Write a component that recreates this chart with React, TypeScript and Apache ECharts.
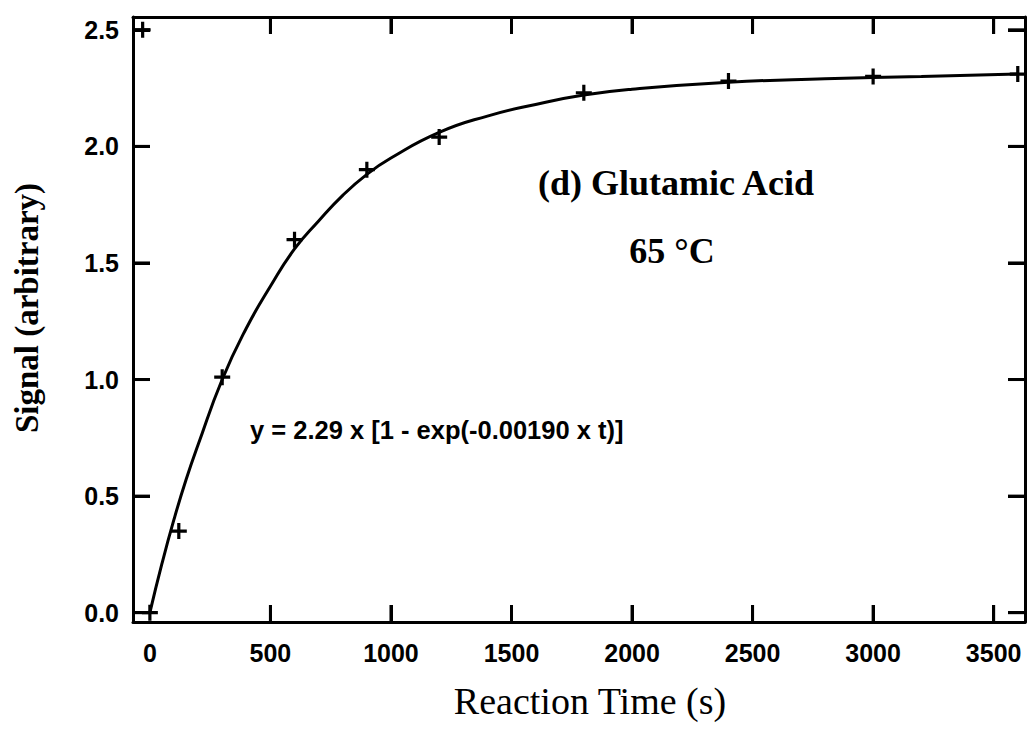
import React, { useEffect, useRef } from "react";
import * as echarts from "echarts";

// Measured data points (reaction time in s, signal arbitrary)
const timeSec = [0, 120, 300, 600, 900, 1200, 1800, 2400, 3000, 3600];
const signal = [0.0, 0.35, 1.01, 1.6, 1.9, 2.04, 2.23, 2.28, 2.3, 2.31];

// Stray marker near the top-left corner
const strayTime = [-30];
const straySignal = [2.5];

// Fitted curve
const curveTime = [0, 50, 100, 150, 200, 300, 400, 500, 600, 700, 800, 900, 1000, 1200, 1400, 1600, 1800, 2000, 2400, 2800, 3200, 3600];
const curveSignal = [0, 0.21, 0.4, 0.57, 0.72, 1.0, 1.22, 1.4, 1.56, 1.68, 1.79, 1.88, 1.95, 2.06, 2.13, 2.18, 2.22, 2.245, 2.275, 2.29, 2.3, 2.31];

// Axis ranges, tick labels and tick marks
const xRange = [-70, 3630];
const yRange = [-0.04, 2.555];
const xLabelValues = [0, 500, 1000, 1500, 2000, 2500, 3000, 3500];
const xTickValues = [500, 1000, 1500, 2000, 2500, 3000, 3500];
const yTickValues = [0, 0.5, 1.0, 1.5, 2.0, 2.5];

const xTitle = "Reaction Time (s)";
const yTitle = "Signal (arbitrary)";
const plotTitle = "(d) Glutamic Acid";
const tempLabel = "65 °C";
const fitLabel = "y = 2.29 x [1 - exp(-0.00190 x t)]";

const PLUS = "path://M4,0H6V4H10V6H6V10H4V6H0V4H4Z";
const TICK_PATH_V = "path://M0,0H2V10H0Z";
const TICK_PATH_H = "path://M0,0H10V2H0Z";
const SANS = "'Liberation Sans', Arial, Helvetica, sans-serif";
const SERIF = "'Liberation Serif', 'Times New Roman', Times, serif";
const TICK_LEN = 17;
const TICK_W = 3;

export default function App() {
  const ref = useRef<HTMLDivElement>(null);

  useEffect(() => {
    if (!ref.current) return;
    const chart = echarts.init(ref.current, undefined, { renderer: "svg" });
    const lineStyle = { color: "#000", width: 3 };
    const labelFont = { color: "#000", fontFamily: SANS, fontSize: 25, fontWeight: "bold" as const };
    const tickLine = { color: "#000", width: 3 };

    const xBase = {
      type: "value" as const,
      min: xRange[0],
      max: xRange[1],
      axisLine: { show: true, onZero: false, lineStyle },
      axisTick: { show: true, inside: true, length: TICK_LEN, lineStyle: tickLine, customValues: xTickValues },
      splitLine: { show: false },
    };
    const yBase = {
      type: "value" as const,
      min: yRange[0],
      max: yRange[1],
      axisLine: { show: true, onZero: false, lineStyle },
      axisTick: { show: true, inside: true, length: TICK_LEN, lineStyle: tickLine, customValues: yTickValues },
      splitLine: { show: false },
    };

    // Tick marks as bar symbols anchored on the frame, pointing inward
    const tickSeries = (name: string, data: number[][], symbol: string, size: number[], offset: number[]) => ({
      type: "scatter",
      name,
      xAxisIndex: 0,
      yAxisIndex: 0,
      data,
      symbol,
      symbolKeepAspect: false,
      symbolSize: size,
      symbolOffset: offset,
      clip: false,
      itemStyle: { color: "#000", borderWidth: 0, opacity: 1 },
      emphasis: { disabled: true },
      z: 5,
    });

    chart.setOption({
      animation: false,
      backgroundColor: "#fff",
      grid: { left: 133, top: 17, right: 6, bottom: 108, containLabel: false },
      xAxis: [
        {
          ...xBase,
          position: "bottom",
          axisLabel: { ...labelFont, margin: 18, customValues: xLabelValues, formatter: (v: number) => String(v) },
        },
        { ...xBase, position: "top", axisLabel: { show: false } },
      ],
      yAxis: [
        {
          ...yBase,
          position: "left",
          axisLabel: { ...labelFont, margin: 14, customValues: yTickValues, formatter: (v: number) => v.toFixed(1) },
        },
        { ...yBase, position: "right", axisLabel: { show: false } },
      ],
      series: [
        tickSeries("tickBottom", xTickValues.map((v) => [v, yRange[0]]), TICK_PATH_V, [TICK_W, TICK_LEN], [0, -TICK_LEN / 2]),
        tickSeries("tickTop", xTickValues.map((v) => [v, yRange[1]]), TICK_PATH_V, [TICK_W, TICK_LEN], [0, TICK_LEN / 2]),
        tickSeries("tickLeft", yTickValues.map((v) => [xRange[0], v]), TICK_PATH_H, [TICK_LEN, TICK_W], [TICK_LEN / 2, 0]),
        tickSeries("tickRight", yTickValues.map((v) => [xRange[1], v]), TICK_PATH_H, [TICK_LEN, TICK_W], [-TICK_LEN / 2, 0]),
        {
          type: "line",
          name: "fit",
          xAxisIndex: 0,
          yAxisIndex: 0,
          data: curveTime.map((t, i) => [t, curveSignal[i]]),
          smooth: true,
          showSymbol: false,
          lineStyle: { color: "#000", width: 3 },
          silent: true,
          z: 2,
        },
        {
          type: "scatter",
          name: "data",
          xAxisIndex: 0,
          yAxisIndex: 0,
          data: timeSec.map((t, i) => [t, signal[i]]),
          symbol: PLUS,
          symbolSize: 16,
          itemStyle: { color: "#000", opacity: 1 },
          z: 3,
        },
        {
          type: "scatter",
          name: "stray",
          xAxisIndex: 0,
          yAxisIndex: 0,
          data: strayTime.map((t, i) => [t, straySignal[i]]),
          symbol: PLUS,
          symbolSize: 16,
          itemStyle: { color: "#000", opacity: 1 },
          z: 3,
        },
      ],
      graphic: [
        {
          type: "text",
          x: 590,
          y: 701,
          style: { text: xTitle, fill: "#000", font: `38px ${SERIF}`, textAlign: "center", textVerticalAlign: "middle" },
        },
        {
          type: "text",
          x: 27,
          y: 308,
          rotation: Math.PI / 2,
          style: { text: yTitle, fill: "#000", font: `bold 33px ${SERIF}`, textAlign: "center", textVerticalAlign: "middle" },
        },
        {
          type: "text",
          x: 676,
          y: 183,
          style: { text: plotTitle, fill: "#000", font: `bold 36px ${SERIF}`, textAlign: "center", textVerticalAlign: "middle" },
        },
        {
          type: "text",
          x: 672,
          y: 251,
          style: { text: tempLabel, fill: "#000", font: `bold 36px ${SERIF}`, textAlign: "center", textVerticalAlign: "middle" },
        },
        {
          type: "text",
          x: 250,
          y: 430,
          style: { text: fitLabel, fill: "#000", font: `bold 25.5px ${SANS}`, textAlign: "left", textVerticalAlign: "middle" },
        },
      ],
    });

    return () => chart.dispose();
  }, []);

  return (
    <div
      ref={ref}
      style={{ position: "fixed", left: 0, top: 0, width: 1031, height: 730, background: "#fff" }}
    />
  );
}
